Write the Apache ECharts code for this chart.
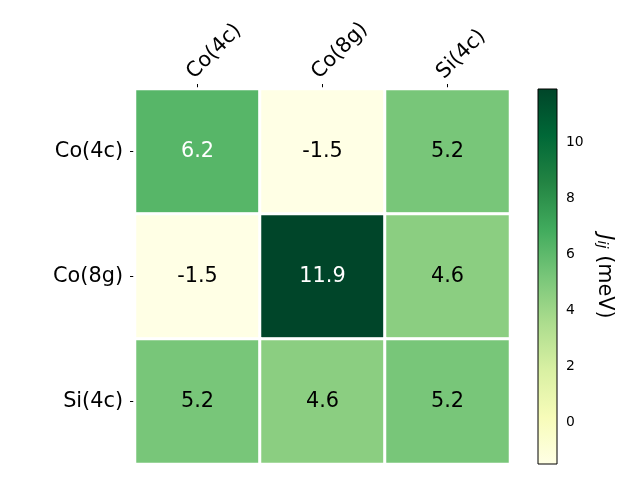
<!DOCTYPE html>
<html>
<head>
<meta charset="utf-8">
<script src="https://cdn.jsdelivr.net/npm/echarts@6/dist/echarts.min.js"></script>
<style>html,body{margin:0;padding:0;background:#fff;}#c{width:640px;height:480px;}</style>
</head>
<body>
<div id="c"></div>
<script>
var categories = ['Co(4c)', 'Co(8g)', 'Si(4c)'];
var rowValues = [
  [6.2, -1.5, 5.2],
  [-1.5, 11.9, 4.6],
  [5.2, 4.6, 5.2]
];
var colorbarTicks = [0, 2, 4, 6, 8, 10];
var vMin = -1.5, vMax = 11.9;
var ylgn = ['#ffffe5', '#f7fcb9', '#d9f0a3', '#addd8e', '#78c679', '#41ab5d', '#238443', '#006837', '#004529'];

var FONT = 'DejaVu Sans';
var data = [];
rowValues.forEach(function (row, yi) {
  row.forEach(function (v, xi) {
    data.push({ value: [xi, yi, v], label: { color: v > 6 ? '#ffffff' : '#000000' } });
  });
});

var stops = ylgn.map(function (c, i) { return { offset: i / (ylgn.length - 1), color: c }; });

var chart = echarts.init(document.getElementById('c'), null, { renderer: 'canvas' });
chart.setOption({
  animation: false,
  backgroundColor: '#ffffff',
  grid: [
    { left: 135, top: 89, width: 375, height: 375 },
    { left: 538, top: 89, width: 19, height: 375 }
  ],
  xAxis: [
    {
      gridIndex: 0, type: 'category', data: categories, position: 'top',
      axisLine: { show: false },
      axisTick: { show: true, alignWithLabel: true, length: 5, lineStyle: { color: '#000', width: 1 } },
      axisLabel: { rotate: -45, fontSize: 20.8, fontFamily: FONT, color: '#000', margin: 6, verticalAlign: 'bottom' },
      splitLine: { show: false }
    },
    {
      gridIndex: 1, type: 'value', min: 0, max: 1, show: false
    }
  ],
  yAxis: [
    {
      gridIndex: 0, type: 'category', data: categories, inverse: true,
      axisLine: { show: false },
      axisTick: { show: true, alignWithLabel: true, length: 5, lineStyle: { color: '#000', width: 1 } },
      axisLabel: { fontSize: 20.8, fontFamily: FONT, color: '#000', margin: 12 },
      splitLine: { show: false }
    },
    {
      gridIndex: 1, type: 'value', min: vMin, max: vMax, position: 'right',
      axisLine: { show: false },
      splitLine: { show: false },
      axisTick: { show: true, length: 5, customValues: colorbarTicks, lineStyle: { color: '#000', width: 1 } },
      axisLabel: { show: true, fontSize: 13.9, fontFamily: FONT, color: '#000', margin: 9, customValues: colorbarTicks },
      name: '{j|J}{s|ij}{t| (meV)}',
      nameLocation: 'middle',
      nameRotate: -90,
      nameGap: 37,
      nameTextStyle: {
        rich: {
          j: { fontSize: 20.8, fontStyle: 'italic', fontFamily: FONT, color: '#000', lineHeight: 25, verticalAlign: 'bottom' },
          s: { fontSize: 14.5, fontStyle: 'italic', fontFamily: FONT, color: '#000', lineHeight: 17, verticalAlign: 'bottom' },
          t: { fontSize: 20.8, fontFamily: FONT, color: '#000', lineHeight: 25, verticalAlign: 'bottom' }
        }
      }
    }
  ],
  visualMap: {
    show: false, type: 'continuous', min: vMin, max: vMax, seriesIndex: 0, dimension: 2,
    inRange: { color: ylgn }
  },
  series: [
    {
      type: 'heatmap', xAxisIndex: 0, yAxisIndex: 0, data: data,
      itemStyle: { borderColor: '#ffffff', borderWidth: 3 },
      label: { show: true, fontSize: 20.8, fontFamily: FONT, formatter: function (p) { return p.value[2].toFixed(1); } },
      emphasis: { disabled: true }
    },
    {
      type: 'custom', xAxisIndex: 1, yAxisIndex: 1, data: [[0, vMin, 1, vMax]],
      renderItem: function (params, api) {
        var p0 = api.coord([api.value(0), api.value(1)]);
        var p1 = api.coord([api.value(2), api.value(3)]);
        return {
          type: 'rect',
          shape: { x: p0[0], y: p1[1], width: p1[0] - p0[0], height: p0[1] - p1[1] },
          style: {
            fill: new echarts.graphic.LinearGradient(0, 1, 0, 0, stops),
            stroke: '#000', lineWidth: 1
          }
        };
      },
      silent: true
    }
  ]
});
</script>
</body>
</html>
